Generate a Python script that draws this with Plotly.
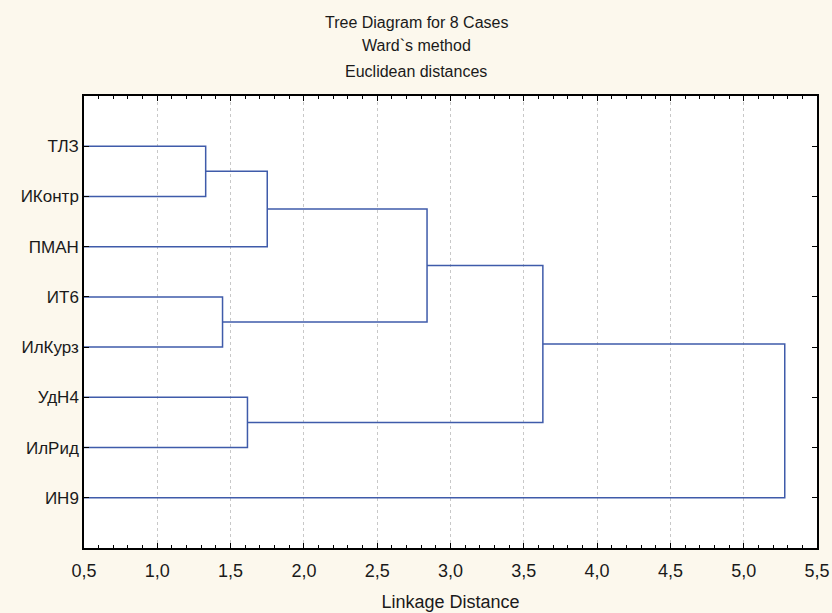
import plotly.graph_objects as go

# Leaf labels in display order (top to bottom)
labels = ["ТЛЗ", "ИКонтр", "ПМАН", "ИТ6", "ИлКурз", "УдН4", "ИлРид", "ИН9"]

# Merges: (left node, right node, linkage distance); leaves are 0..7, new clusters 8..
merge_left = [0, 8, 3, 5, 9, 12, 13]
merge_right = [1, 2, 4, 6, 10, 11, 7]
merge_height = [1.33, 1.75, 1.445, 1.615, 2.84, 3.63, 5.28]

x_ticks = [0.5, 1.0, 1.5, 2.0, 2.5, 3.0, 3.5, 4.0, 4.5, 5.0, 5.5]
title_lines = ["Tree Diagram for 8 Cases", "Ward`s method", "Euclidean distances"]

leaf_start = 0.5
pos = {i: (leaf_start, i + 1) for i in range(len(labels))}

fig = go.Figure()
line_color = "#3F5BAA"
xs, ys = [], []
for k, (a, b, h) in enumerate(zip(merge_left, merge_right, merge_height)):
    xa, ya = pos[a]
    xb, yb = pos[b]
    xs += [xa, h, h, xb, None]
    ys += [ya, ya, yb, yb, None]
    pos[len(labels) + k] = (h, (ya + yb) / 2)

fig.add_trace(go.Scatter(x=xs, y=ys, mode="lines",
                         line=dict(color=line_color, width=1.5),
                         hoverinfo="skip", showlegend=False))

W, H = 832, 613
L, R, T, B = 84, 15, 96, 65
ph = H - T - B
title_centers_px = [22, 46, 71]
for txt, py in zip(title_lines, title_centers_px):
    fig.add_annotation(text=txt, xref="paper", yref="paper",
                       x=0.5 - (L - R) / 2 / (W - L - R), y=(H - B - py) / ph,
                       xanchor="center", yanchor="middle", showarrow=False,
                       font=dict(family="Liberation Sans, Arial, sans-serif", size=16, color="#1a1a1a"))

font_main = "Liberation Sans, Arial, sans-serif"
fig.update_layout(
    width=W, height=H,
    paper_bgcolor="#FCF8ED",
    plot_bgcolor="#FFFFFF",
    margin=dict(l=L, r=R, t=T, b=B, autoexpand=False),
    separators=", ",
    font=dict(family=font_main, size=18, color="#1a1a1a"),
    xaxis=dict(
        range=[0.5, 5.5], tickvals=x_ticks, tickformat=".1f",
        showline=True, linecolor="#000000", linewidth=1.5, mirror="allticks",
        ticks="inside", ticklen=5, tickcolor="#000000", tickwidth=1,
        ticklabelstandoff=6,
        minor=dict(dtick=0.1, ticks="inside", ticklen=3, tickcolor="#000000", showgrid=False),
        showgrid=True, gridcolor="#C8C8C8", griddash="dot", gridwidth=1,
        zeroline=False,
        title=dict(text="Linkage Distance", standoff=15, font=dict(size=18)),
        tickfont=dict(size=18),
    ),
    yaxis=dict(
        range=[9, 0], tickvals=list(range(1, len(labels) + 1)), ticktext=labels,
        showline=True, linecolor="#000000", linewidth=1.5, mirror="allticks",
        ticks="inside", ticklen=5, tickcolor="#000000",
        showgrid=False, zeroline=False,
        tickfont=dict(size=17),
    ),
)

fig.write_html("out.html", config={"displayModeBar": False},
               post_script="document.body.style.margin='0';document.body.style.padding='0';document.body.style.overflow='hidden';")
